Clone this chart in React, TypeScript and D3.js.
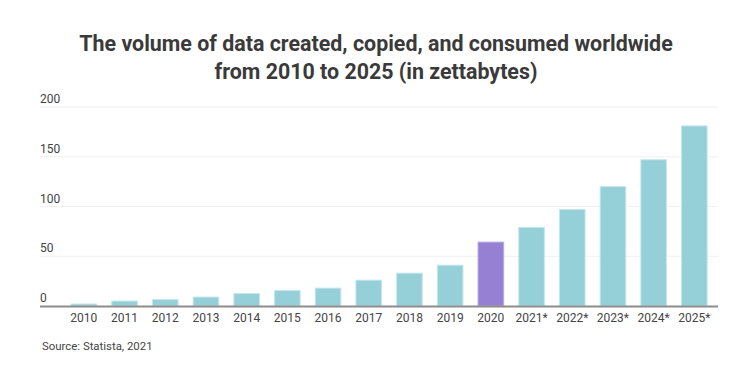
import React, { useEffect, useRef } from 'react';
import * as d3 from 'd3';

const years = ['2010', '2011', '2012', '2013', '2014', '2015', '2016', '2017', '2018', '2019', '2020', '2021*', '2022*', '2023*', '2024*', '2025*'];
const volumes = [2, 5, 6.5, 9, 12.5, 15.5, 18, 26, 33, 41, 64.2, 79, 97, 120, 147, 181];
const yTicks = [0, 50, 100, 150, 200];
const highlight = '2020';

const App = () => {
    const svgRef = useRef<SVGSVGElement>(null);

    useEffect(() => {
        const width = 749;
        const height = 374;
        const svg = d3.select(svgRef.current);
        svg.selectAll('*').remove();
        svg.attr('width', width).attr('height', height);

        const font = 'Roboto, sans-serif';

        // Title
        const title = svg.append('text')
            .attr('text-anchor', 'middle')
            .style('font-family', font)
            .style('font-size', '21.4px')
            .style('font-weight', 'bold')
            .style('fill', '#3a3a3a');
        title.append('tspan').attr('x', 376).attr('y', 51).text('The volume of data created, copied, and consumed worldwide');
        title.append('tspan').attr('x', 376).attr('y', 79).text('from 2010 to 2025 (in zettabytes)');

        // Scales
        const x = d3.scaleBand()
            .domain(years)
            .range([63.5, 714.7])
            .paddingInner(0.37)
            .paddingOuter(0.185);

        const y = d3.scaleLinear()
            .domain([0, 200])
            .range([306, 107]);

        // Grid lines
        svg.append('g')
            .selectAll('line')
            .data(yTicks.filter(d => d > 0))
            .enter()
            .append('line')
            .attr('x1', 40)
            .attr('x2', 718)
            .attr('y1', d => y(d))
            .attr('y2', d => y(d))
            .style('stroke', '#f0f0f0')
            .style('stroke-width', 1);

        // Y tick labels
        svg.append('g')
            .selectAll('text')
            .data(yTicks)
            .enter()
            .append('text')
            .attr('x', 40)
            .attr('y', d => y(d) - 4)
            .style('font-family', font)
            .style('font-size', '12px')
            .style('fill', '#444')
            .text(d => d);

        // Bars
        svg.append('g')
            .selectAll('rect')
            .data(volumes)
            .enter()
            .append('rect')
            .attr('x', (d, i) => x(years[i]))
            .attr('width', x.bandwidth())
            .attr('y', d => y(d))
            .attr('height', d => y(0) - y(d))
            .style('fill', (d, i) => years[i] === highlight ? '#9580d3' : '#95cfd8')
            .style('stroke', (d, i) => years[i] === highlight ? '#b8a9e6' : '#c4e8ee')
            .style('stroke-width', 1);

        // X axis line
        svg.append('line')
            .attr('x1', 40)
            .attr('x2', 718)
            .attr('y1', y(0) + 0.5)
            .attr('y2', y(0) + 0.5)
            .style('stroke', '#8c8c8c')
            .style('stroke-width', 2);

        // X labels
        svg.append('g')
            .selectAll('text')
            .data(years)
            .enter()
            .append('text')
            .attr('x', d => x(d) + x.bandwidth() / 2)
            .attr('y', 322)
            .attr('text-anchor', 'middle')
            .style('font-family', font)
            .style('font-size', '12px')
            .style('fill', '#444')
            .text(d => d);

        // Source
        svg.append('text')
            .attr('x', 42)
            .attr('y', 350)
            .style('font-family', font)
            .style('font-size', '11.4px')
            .style('fill', '#444')
            .text('Source: Statista, 2021');
    }, []);

    return <svg ref={svgRef} style={{ position: 'absolute', left: 0, top: 0 }}></svg>;
};

export default App;
